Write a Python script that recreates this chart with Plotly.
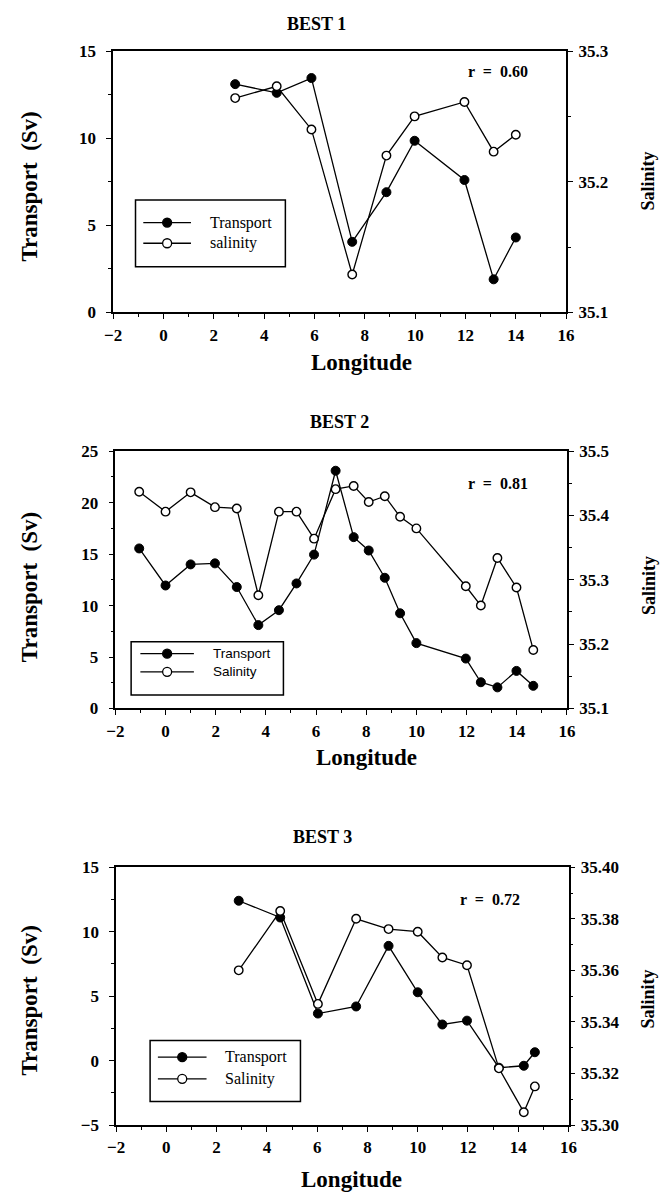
import plotly.graph_objects as go

# ---------------- data ----------------
best1_lon = [2.85, 4.5, 5.88, 7.5, 8.86, 9.98, 11.96, 13.12, 14.0]
best1_transport = [13.1, 12.6, 13.45, 4.05, 6.9, 9.85, 7.6, 1.9, 4.3]
best1_salinity = [35.264, 35.273, 35.240, 35.129, 35.220, 35.250, 35.261, 35.223, 35.236]

best2_lon = [-1.05, 0.0, 1.0, 1.97, 2.84, 3.7, 4.52, 5.22, 5.92, 6.78,
             7.5, 8.1, 8.74, 9.35, 10.0, 11.97, 12.57, 13.23, 13.99, 14.66]
best2_transport = [15.55, 11.95, 14.0, 14.1, 11.8, 8.1, 9.55, 12.15, 14.95, 23.1,
                   16.65, 15.35, 12.7, 9.25, 6.35, 4.85, 2.55, 2.05, 3.65, 2.2]
best2_salinity = [35.437, 35.406, 35.436, 35.413, 35.411, 35.276, 35.406, 35.406, 35.364, 35.441,
                  35.446, 35.421, 35.430, 35.398, 35.380, 35.290, 35.260, 35.334, 35.288, 35.191]

best3_lon = [2.88, 4.53, 6.03, 7.55, 8.84, 10.0, 10.98, 11.96, 13.23, 14.22, 14.66]
best3_transport = [12.4, 11.1, 3.65, 4.2, 8.9, 5.3, 2.8, 3.1, -0.55, -0.4, 0.65]
best3_salinity = [35.360, 35.383, 35.347, 35.380, 35.376, 35.375, 35.365, 35.362, 35.322, 35.305, 35.315]

titles = ["BEST 1", "BEST 2", "BEST 3"]
r_labels = ["r  =  0.60", "r  =  0.81", "r  =  0.72"]
legend_names = [["Transport", "salinity"], ["Transport", "Salinity"], ["Transport", "Salinity"]]

transport_ranges = [[0, 15], [0, 25], [-5, 15]]
salinity_ranges = [[35.1, 35.3], [35.1, 35.5], [35.30, 35.40]]
salinity_dticks = [0.1, 0.1, 0.02]
salinity_formats = [".1f", ".1f", ".2f"]

panels = [
    (best1_lon, best1_transport, best1_salinity),
    (best2_lon, best2_transport, best2_salinity),
    (best3_lon, best3_transport, best3_salinity),
]

# ---------------- layout geometry (pixels) ----------------
W, H = 670, 1202
boxes = [
    dict(l=107.0, r=572.5, t=42.7, b=308.3),
    dict(l=109.3, r=573.3, t=449.3, b=710.7),
    dict(l=110.0, r=575.0, t=872.0, b=1134.0),
]
title_pos = [(316, 15), (340, 420), (322, 841)]
xtitle_pos = [(362, 359), (367, 761), (352, 1189)]
ytitle_y = [180, 587, 1007]
sal_title_y = [175, 586, 1006]
r_pos = [(503, 63), (502, 482), (494, 905)]
legend_geo = [
    dict(box=(130, 194, 284, 262), rows=(217, 238), line=(138, 187), text_x=205,
         font=dict(family="Liberation Serif", size=16)),
    dict(box=(125.5, 643, 282, 697), rows=(655, 673.5), line=(135, 190), text_x=208,
         font=dict(family="Liberation Sans", size=13.5)),
    dict(box=(145, 1048, 299.5, 1110), rows=(1065, 1087), line=(153, 203), text_x=220,
         font=dict(family="Liberation Serif", size=16)),
]


def px(x):
    return x / W


def py(y):
    return 1 - y / H


SERIF = "Liberation Serif"


def bold(size):
    return dict(family=SERIF, size=size, color="black", weight="bold")


fig = go.Figure()
layout = dict(
    width=W, height=H,
    margin=dict(l=0, r=0, t=0, b=0),
    paper_bgcolor="white", plot_bgcolor="white",
    font=dict(family=SERIF, color="black"),
    showlegend=False,
    annotations=[], shapes=[],
)

for i, (lon, trans, sal) in enumerate(panels):
    k = i + 1
    xa = "x" if k == 1 else f"x{k}"
    ya_t = "y" if k == 1 else f"y{2 * k - 1}"
    ya_s = f"y{2 * k}"
    b = boxes[i]

    fig.add_trace(go.Scatter(
        x=lon, y=trans, xaxis=xa, yaxis=ya_t, mode="lines+markers",
        name=legend_names[i][0], cliponaxis=False,
        line=dict(color="black", width=1.3),
        marker=dict(symbol="circle", size=9, color="black", line=dict(color="black", width=1)),
    ))
    fig.add_trace(go.Scatter(
        x=lon, y=sal, xaxis=xa, yaxis=ya_s, mode="lines+markers",
        name=legend_names[i][1], cliponaxis=False,
        line=dict(color="black", width=1.3),
        marker=dict(symbol="circle", size=8.5, color="white", line=dict(color="black", width=1.4)),
    ))

    xname = "xaxis" if k == 1 else f"xaxis{k}"
    ytname = "yaxis" if k == 1 else f"yaxis{2 * k - 1}"
    ysname = f"yaxis{2 * k}"

    common = dict(
        showgrid=False, zeroline=False, fixedrange=True,
        tickfont=bold(17), tickprefix="<b>", ticksuffix="</b>",
        ticks="outside", ticklen=5, tickwidth=1.4, tickcolor="black",
        linecolor="black",
    )
    layout[xname] = dict(
        domain=[px(b["l"]), px(b["r"])], anchor=ya_t,
        range=[-2, 16], tick0=0, dtick=2,
        showline=True, mirror=True, linewidth=1.5,
        minor=dict(dtick=1, ticks="outside", ticklen=3, tickwidth=1.2, tickcolor="black"),
        ticklabelstandoff=1, **common,
    )
    layout[ytname] = dict(
        domain=[py(b["b"]), py(b["t"])], anchor=xa,
        range=transport_ranges[i], tick0=0, dtick=5,
        showline=True, linewidth=1.5,
        minor=dict(dtick=2.5, ticks="outside", ticklen=3, tickwidth=1.2, tickcolor="black"),
        ticklabelstandoff=7, **common,
    )
    layout[ysname] = dict(
        overlaying=ya_t, side="right", anchor=xa,
        range=salinity_ranges[i], tick0=35.0, dtick=salinity_dticks[i],
        tickformat=salinity_formats[i],
        showline=True, linewidth=1.8,
        minor=dict(dtick=salinity_dticks[i] / 2, ticks="outside", ticklen=3,
                   tickwidth=1.2, tickcolor="black"),
        ticklabelstandoff=2, **common,
    )

    ann = layout["annotations"]
    tx, ty = title_pos[i]
    ann.append(dict(text=f"<b>{titles[i]}</b>", x=px(tx), y=py(ty), xref="paper", yref="paper",
                    showarrow=False, xanchor="center", yanchor="middle", font=bold(18)))
    lx, ly = xtitle_pos[i]
    ann.append(dict(text="<b>Longitude</b>", x=px(lx), y=py(ly), xref="paper", yref="paper",
                    showarrow=False, xanchor="center", yanchor="middle", font=bold(23)))
    ann.append(dict(text="<b>Transport  (Sv)</b>", x=px(21), y=py(ytitle_y[i]),
                    xref="paper", yref="paper",
                    showarrow=False, xanchor="center", yanchor="middle", textangle=-90,
                    font=bold(23)))
    ann.append(dict(text="<b>Salinity</b>", x=px(657), y=py(sal_title_y[i]),
                    xref="paper", yref="paper",
                    showarrow=False, xanchor="center", yanchor="middle", textangle=-90,
                    font=bold(18)))
    rx, ry = r_pos[i]
    ann.append(dict(text=f"<b>{r_labels[i]}</b>", x=px(rx), y=py(ry), xref="paper", yref="paper",
                    showarrow=False, xanchor="center", yanchor="middle", font=bold(16)))

    # key box with line-and-circle samples
    g = legend_geo[i]
    x0, y0, x1, y1 = g["box"]
    shp = layout["shapes"]
    shp.append(dict(type="rect", xref="paper", yref="paper",
                    x0=px(x0), x1=px(x1), y0=py(y1), y1=py(y0),
                    line=dict(color="black", width=1.5), fillcolor="white", layer="below"))
    lx0, lx1 = g["line"]
    mx = (lx0 + lx1) / 2
    for j, (ry_, fill) in enumerate(zip(g["rows"], ["black", "white"])):
        shp.append(dict(type="line", xref="paper", yref="paper",
                        x0=px(lx0), x1=px(lx1), y0=py(ry_), y1=py(ry_),
                        line=dict(color="black", width=1.3)))
        shp.append(dict(type="circle", xref="paper", yref="paper",
                        xsizemode="pixel", ysizemode="pixel",
                        xanchor=px(mx), yanchor=py(ry_),
                        x0=-4.5, x1=4.5, y0=-4.5, y1=4.5,
                        fillcolor=fill, line=dict(color="black", width=1.3)))
        ann.append(dict(text=legend_names[i][j], x=px(g["text_x"]), y=py(ry_),
                        xref="paper", yref="paper", showarrow=False,
                        xanchor="left", yanchor="middle",
                        font=dict(color="black", **g["font"])))

fig.update_layout(**layout)
fig.write_html("out.html")
